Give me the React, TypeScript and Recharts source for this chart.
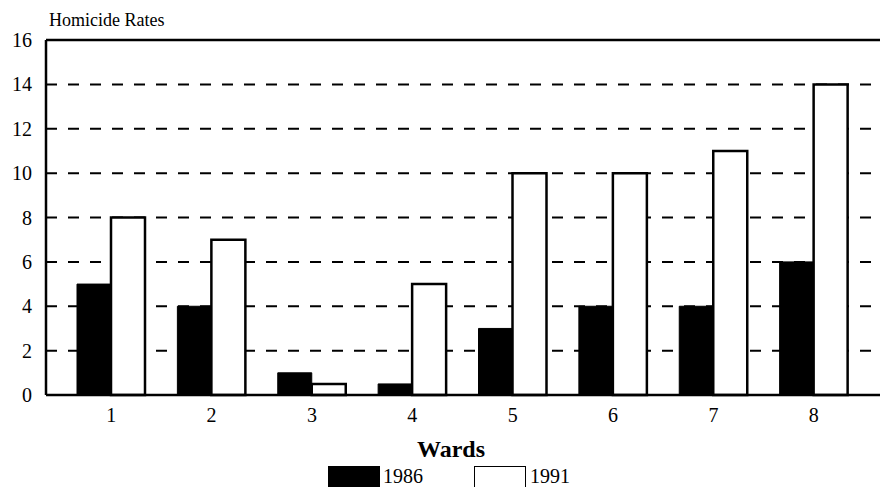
import {
  BarChart,
  Bar,
  XAxis,
  YAxis,
  CartesianGrid,
  ReferenceLine,
  Legend,
} from 'recharts'

const wards = ['1', '2', '3', '4', '5', '6', '7', '8']
const rates1986 = [5, 4, 1, 0.5, 3, 4, 4, 6]
const rates1991 = [8, 7, 0.5, 5, 10, 10, 11, 14]
const yTicks = [0, 2, 4, 6, 8, 10, 12, 14, 16]

const data = wards.map((w, i) => ({
  ward: w,
  y1986: rates1986[i],
  y1991: rates1991[i],
}))

const serif = 'Liberation Serif'

function WardsLegend() {
  return (
    <div style={{ position: 'relative', height: 30, width: 880, fontFamily: serif }}>
      <div
        style={{
          position: 'absolute',
          left: 328,
          top: 4,
          width: 52,
          height: 30,
          background: '#000',
        }}
      />
      <span
        style={{
          position: 'absolute',
          left: 383,
          top: 2,
          fontSize: 20,
          lineHeight: '24px',
          color: '#000',
        }}
      >
        1986
      </span>
      <div
        style={{
          position: 'absolute',
          left: 474,
          top: 4,
          width: 50,
          height: 30,
          background: '#fff',
          border: '1.5px solid #000',
        }}
      />
      <span
        style={{
          position: 'absolute',
          left: 530,
          top: 2,
          fontSize: 20,
          lineHeight: '24px',
          color: '#000',
        }}
      >
        1991
      </span>
    </div>
  )
}

export default function App() {
  return (
    <div
      style={{
        position: 'absolute',
        left: 0,
        top: 0,
        width: 880,
        height: 487,
        background: '#fff',
        overflow: 'hidden',
        fontFamily: serif,
      }}
    >
      <div
        style={{
          position: 'absolute',
          left: 49,
          top: 11,
          fontSize: 18,
          lineHeight: '18px',
          color: '#000',
          zIndex: 2,
        }}
      >
        Homicide Rates
      </div>
      <BarChart
        width={880}
        height={487}
        data={data}
        margin={{ top: 40, right: 0, left: 0, bottom: 30 }}
        barGap={0}
      >
        <CartesianGrid
          vertical={false}
          stroke="#000"
          strokeWidth={2}
          strokeDasharray="11 11"
        />
        <XAxis
          dataKey="ward"
          height={62}
          padding={{ left: 15, right: 16 }}
          axisLine={{ stroke: '#000', strokeWidth: 2.5 }}
          tickLine={false}
          tickSize={0}
          tickMargin={13}
          tick={{ fontSize: 20, fill: '#000', fontFamily: serif }}
          interval={0}
          label={{
            value: 'Wards',
            position: 'insideBottom',
            offset: 0,
            dx: -12,
            fontFamily: serif,
            fontSize: 24,
            fontWeight: 'bold',
            fill: '#000',
          }}
        />
        <YAxis
          width={46}
          domain={[0, 16]}
          ticks={yTicks}
          interval={0}
          axisLine={{ stroke: '#000', strokeWidth: 2.5 }}
          tickLine={false}
          tickSize={0}
          tickMargin={14}
          tick={{ fontSize: 20, fill: '#000', fontFamily: serif }}
        />
        <ReferenceLine y={16} stroke="#000" strokeWidth={2.5} />
        <Legend
          layout="horizontal"
          verticalAlign="middle"
          content={() => <WardsLegend />}
          wrapperStyle={{ position: 'absolute', top: 462, left: 0, width: 880 }}
        />
        <Bar
          dataKey="y1986"
          name="1986"
          barSize={34}
          fill="#000"
          stroke="#000"
          strokeWidth={1}
          isAnimationActive={false}
        />
        <Bar
          dataKey="y1991"
          name="1991"
          barSize={34}
          fill="#fff"
          stroke="#000"
          strokeWidth={2.5}
          isAnimationActive={false}
        />
      </BarChart>
    </div>
  )
}
